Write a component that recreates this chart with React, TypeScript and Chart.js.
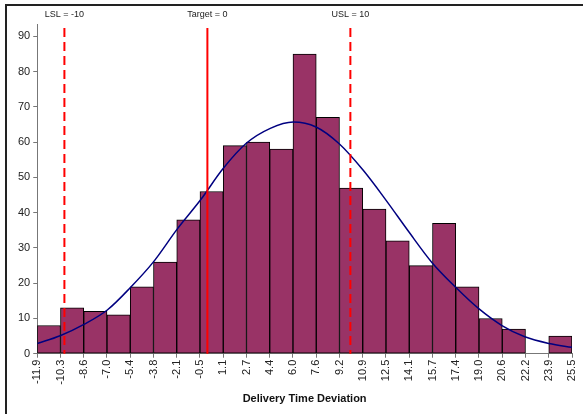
import React, { useEffect, useRef } from "react";
import { Chart, registerables } from "chart.js";

Chart.register(...registerables);

const edgeLabels = ["-11.9", "-10.3", "-8.6", "-7.0", "-5.4", "-3.8", "-2.1", "-0.5", "1.1", "2.7", "4.4", "6.0", "7.6", "9.2", "10.9", "12.5", "14.1", "15.7", "17.4", "19.0", "20.6", "22.2", "23.9", "25.5"];
const binCounts = [8, 13, 12, 11, 19, 26, 38, 46, 59, 60, 58, 85, 67, 47, 41, 32, 25, 37, 19, 10, 7, 0, 5];
const curveValues = [2.9, 5.1, 8.4, 12.4, 18.7, 25.9, 35.4, 43.5, 52.5, 59.6, 63.9, 65.7, 64.3, 59.6, 52.0, 43.5, 34.5, 25.9, 18.7, 12.7, 8.0, 4.8, 2.9, 1.8];
const specValues = [-10, 0, 10];
const specLabels = ["LSL = -10", "Target = 0", "USL = 10"];
const specDashed = [true, false, true];
const yTicks = [0, 10, 20, 30, 40, 50, 60, 70, 80, 90];
const yMax = 93.5;
const xTitle = "Delivery Time Deviation";

const FONT = "'Liberation Sans', Arial, sans-serif";

export default function App() {
  const ref = useRef<HTMLCanvasElement | null>(null);

  useEffect(() => {
    document.body.style.margin = "0";
    const canvas = ref.current;
    if (!canvas) return;
    const xMin = Number(edgeLabels[0]);
    const xMax = Number(edgeLabels[edgeLabels.length - 1]);
    const binW = (xMax - xMin) / binCounts.length;

    const specPlugin = {
      id: "specLines",
      afterDatasetsDraw(chart: any) {
        const { ctx, chartArea, scales } = chart;
        ctx.save();
        specValues.forEach((v, i) => {
          const px = scales.x.getPixelForValue(v);
          ctx.strokeStyle = "#ff0000";
          ctx.lineWidth = 2;
          ctx.setLineDash(specDashed[i] ? [9, 5] : []);
          ctx.beginPath();
          ctx.moveTo(px, chartArea.top + 4);
          ctx.lineTo(px, chartArea.bottom);
          ctx.stroke();
          ctx.setLineDash([]);
          ctx.fillStyle = "#222";
          ctx.font = `9px ${FONT}`;
          ctx.textAlign = "center";
          ctx.textBaseline = "middle";
          ctx.fillText(specLabels[i], px, 15);
        });
        ctx.restore();
      },
      beforeDraw(chart: any) {
        const { ctx, width, height } = chart;
        ctx.save();
        ctx.fillStyle = "#fff";
        ctx.fillRect(0, 0, width, height);
        ctx.strokeStyle = "#222";
        ctx.lineWidth = 2;
        ctx.beginPath();
        ctx.moveTo(6, height + 2);
        ctx.lineTo(6, 5);
        ctx.lineTo(width + 2, 5);
        ctx.stroke();
        ctx.restore();
      },
    };

    const chart = new Chart(canvas, {
      type: "bar",
      data: {
        datasets: [
          {
            type: "line",
            data: edgeLabels.map((e, i) => ({ x: Number(e), y: curveValues[i] })),
            borderColor: "#000080",
            borderWidth: 1.5,
            pointRadius: 0,
            tension: 0.4,
            cubicInterpolationMode: "monotone",
            fill: false,
            order: 1,
          } as any,
          {
            type: "bar",
            data: binCounts.map((c, i) => ({ x: xMin + (i + 0.5) * binW, y: c })),
            backgroundColor: "#993366",
            borderColor: "#000000",
            borderWidth: 1,
            borderSkipped: false,
            barPercentage: 1,
            categoryPercentage: 1,
            order: 3,
          } as any,
        ],
      },
      options: {
        animation: false,
        responsive: true,
        maintainAspectRatio: false,
        layout: { padding: { left: 15, right: 11, top: 24, bottom: 8 } },
        plugins: { legend: { display: false }, tooltip: { enabled: false } },
        scales: {
          x: {
            type: "linear",
            offset: false,
            min: xMin,
            max: xMax,
            afterBuildTicks(scale: any) {
              scale.ticks = edgeLabels.map((_, i) => ({ value: xMin + i * binW }));
            },
            afterFit(scale: any) {
              scale.paddingRight = 0;
              scale.paddingLeft = 0;
            },
            ticks: {
              autoSkip: false,
              minRotation: 90,
              maxRotation: 90,
              padding: 2,
              color: "#222",
              font: { family: FONT, size: 11 },
              callback: (_v: any, i: number) => edgeLabels[i],
            },
            grid: { drawOnChartArea: false, drawTicks: true, tickLength: 4, color: "#777", offset: false },
            border: { display: true, color: "#777", width: 1 },
            title: {
              display: true,
              text: xTitle,
              color: "#111",
              font: { family: FONT, size: 11, weight: "bold" },
              padding: { top: 6, bottom: 0 },
            },
          },
          y: {
            type: "linear",
            min: 0,
            max: yMax,
            afterBuildTicks(scale: any) {
              scale.ticks = yTicks.map((v) => ({ value: v }));
            },
            ticks: {
              padding: 3,
              color: "#222",
              font: { family: FONT, size: 11 },
            },
            grid: { drawOnChartArea: false, drawTicks: true, tickLength: 4, color: "#777" },
            border: { display: true, color: "#777", width: 1 },
          },
        },
      },
      plugins: [specPlugin],
    } as any);

    return () => chart.destroy();
  }, []);

  return (
    <div style={{ position: "relative", width: 583, height: 414 }}>
      <canvas ref={ref} />
    </div>
  );
}
